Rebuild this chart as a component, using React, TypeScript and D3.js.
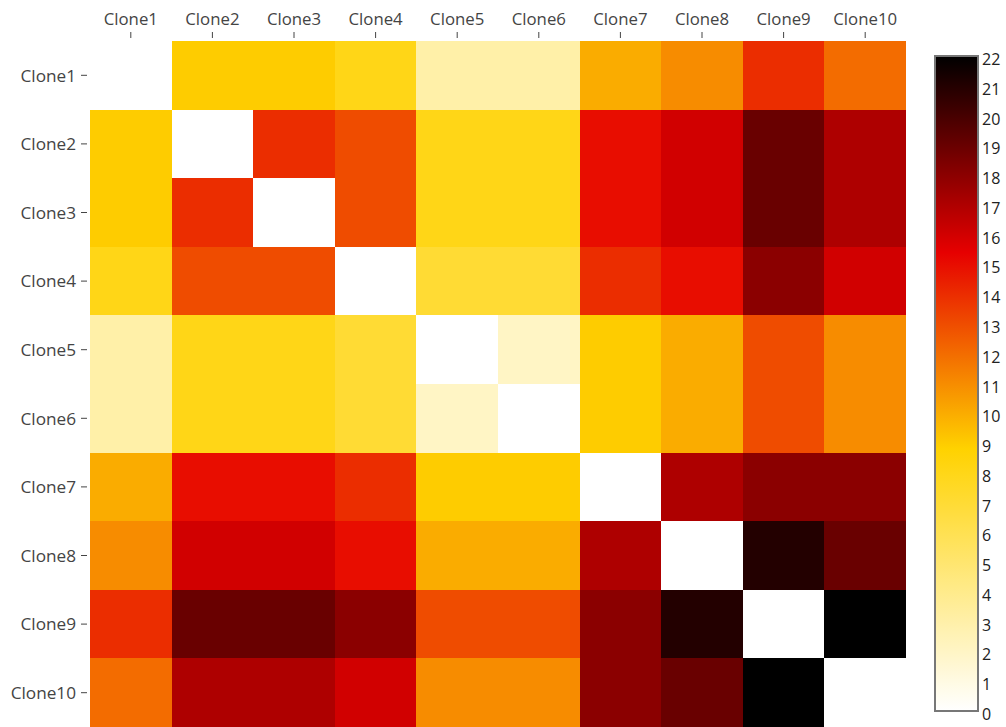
import React from "react";
import * as d3 from "d3";

// Pairwise distance matrix between clones (diagonal left empty)
const clones = ["Clone1", "Clone2", "Clone3", "Clone4", "Clone5", "Clone6", "Clone7", "Clone8", "Clone9", "Clone10"];

const row1 = [NaN, 9, 9, 8, 3, 3, 10, 11, 14, 12];
const row2 = [9, NaN, 14, 13, 8, 8, 15, 16, 19, 17];
const row3 = [9, 14, NaN, 13, 8, 8, 15, 16, 19, 17];
const row4 = [8, 13, 13, NaN, 7, 7, 14, 15, 18, 16];
const row5 = [3, 8, 8, 7, NaN, 2, 9, 10, 13, 11];
const row6 = [3, 8, 8, 7, 2, NaN, 9, 10, 13, 11];
const row7 = [10, 15, 15, 14, 9, 9, NaN, 17, 18, 18];
const row8 = [11, 16, 16, 15, 10, 10, 17, NaN, 21, 19];
const row9 = [14, 19, 19, 18, 13, 13, 18, 21, NaN, 22];
const row10 = [12, 17, 17, 16, 11, 11, 18, 19, 22, NaN];

const matrix = [row1, row2, row3, row4, row5, row6, row7, row8, row9, row10];

const colorTicks = d3.range(0, 23);
const zMin = 0;
const zMax = 22;

// Reversed "Hot" colour scale: white -> gold -> red -> black
const hotStops = [
  [0, "rgb(255,255,255)"],
  [0.4, "rgb(255,210,0)"],
  [0.7, "rgb(230,0,0)"],
  [1, "rgb(0,0,0)"],
] as const;

const W = 1006;
const H = 727;
const plot = { left: 90, top: 41, right: 906, bottom: 727 };
const bar = { left: 935, right: 978, top: 56, bottom: 711 };

const FONT = "'Open Sans', 'Noto Sans', sans-serif";

export default function App() {
  const x = d3.scaleBand<string>().domain(clones).range([plot.left, plot.right]);
  const y = d3.scaleBand<string>().domain(clones).range([plot.top, plot.bottom]);

  const color = d3
    .scaleLinear<string>()
    .domain(hotStops.map((s) => zMin + s[0] * (zMax - zMin)))
    .range(hotStops.map((s) => s[1]))
    .interpolate(d3.interpolateRgb)
    .clamp(true);

  const cbScale = d3.scaleLinear().domain([zMin, zMax]).range([bar.bottom, bar.top]);

  const gradStops = d3.range(0, 1.0001, 0.02).map((t) => ({
    offset: t,
    color: color(zMin + t * (zMax - zMin)),
  }));

  const cells: { r: string; c: string; v: number }[] = [];
  matrix.forEach((rowVals, i) =>
    rowVals.forEach((v, j) => {
      if (!Number.isNaN(v)) cells.push({ r: clones[i], c: clones[j], v });
    })
  );

  return (
    <svg
      width={W}
      height={H}
      style={{ position: "absolute", left: 0, top: 0, background: "#fff" }}
      fontFamily={FONT}
    >
      <defs>
        <linearGradient id="cbGrad" x1="0" y1="1" x2="0" y2="0">
          {gradStops.map((s, i) => (
            <stop key={i} offset={s.offset} stopColor={s.color} />
          ))}
        </linearGradient>
      </defs>

      {/* heatmap cells */}
      <g shapeRendering="crispEdges">
        {cells.map((d, i) => (
          <rect
            key={i}
            x={x(d.c)!}
            y={y(d.r)!}
            width={x.bandwidth()}
            height={y.bandwidth()}
            fill={color(d.v)}
          />
        ))}
      </g>

      {/* top x-axis */}
      <g>
        {clones.map((c) => {
          const cx = x(c)! + x.bandwidth() / 2;
          return (
            <g key={c}>
              <line x1={cx} x2={cx} y1={32} y2={38} stroke="#444" strokeWidth={1} />
              <text x={cx} y={25} textAnchor="middle" fontSize={16.8} fill="#444">
                {c}
              </text>
            </g>
          );
        })}
      </g>

      {/* left y-axis */}
      <g>
        {clones.map((c) => {
          const cy = y(c)! + y.bandwidth() / 2;
          return (
            <g key={c}>
              <line x1={81} x2={87} y1={cy} y2={cy} stroke="#444" strokeWidth={1} />
              <text x={76} y={cy + 6.3} textAnchor="end" fontSize={17.2} fill="#444">
                {c}
              </text>
            </g>
          );
        })}
      </g>

      {/* colour bar */}
      <g>
        <rect
          x={bar.left}
          y={bar.top}
          width={bar.right - bar.left}
          height={bar.bottom - bar.top}
          fill="url(#cbGrad)"
          stroke="#777"
          strokeWidth={2}
        />
        {colorTicks.map((t) => (
          <text key={t} x={982} y={cbScale(t) + 9} fontSize={16} fill="#222">
            {t}
          </text>
        ))}
      </g>
    </svg>
  );
}
